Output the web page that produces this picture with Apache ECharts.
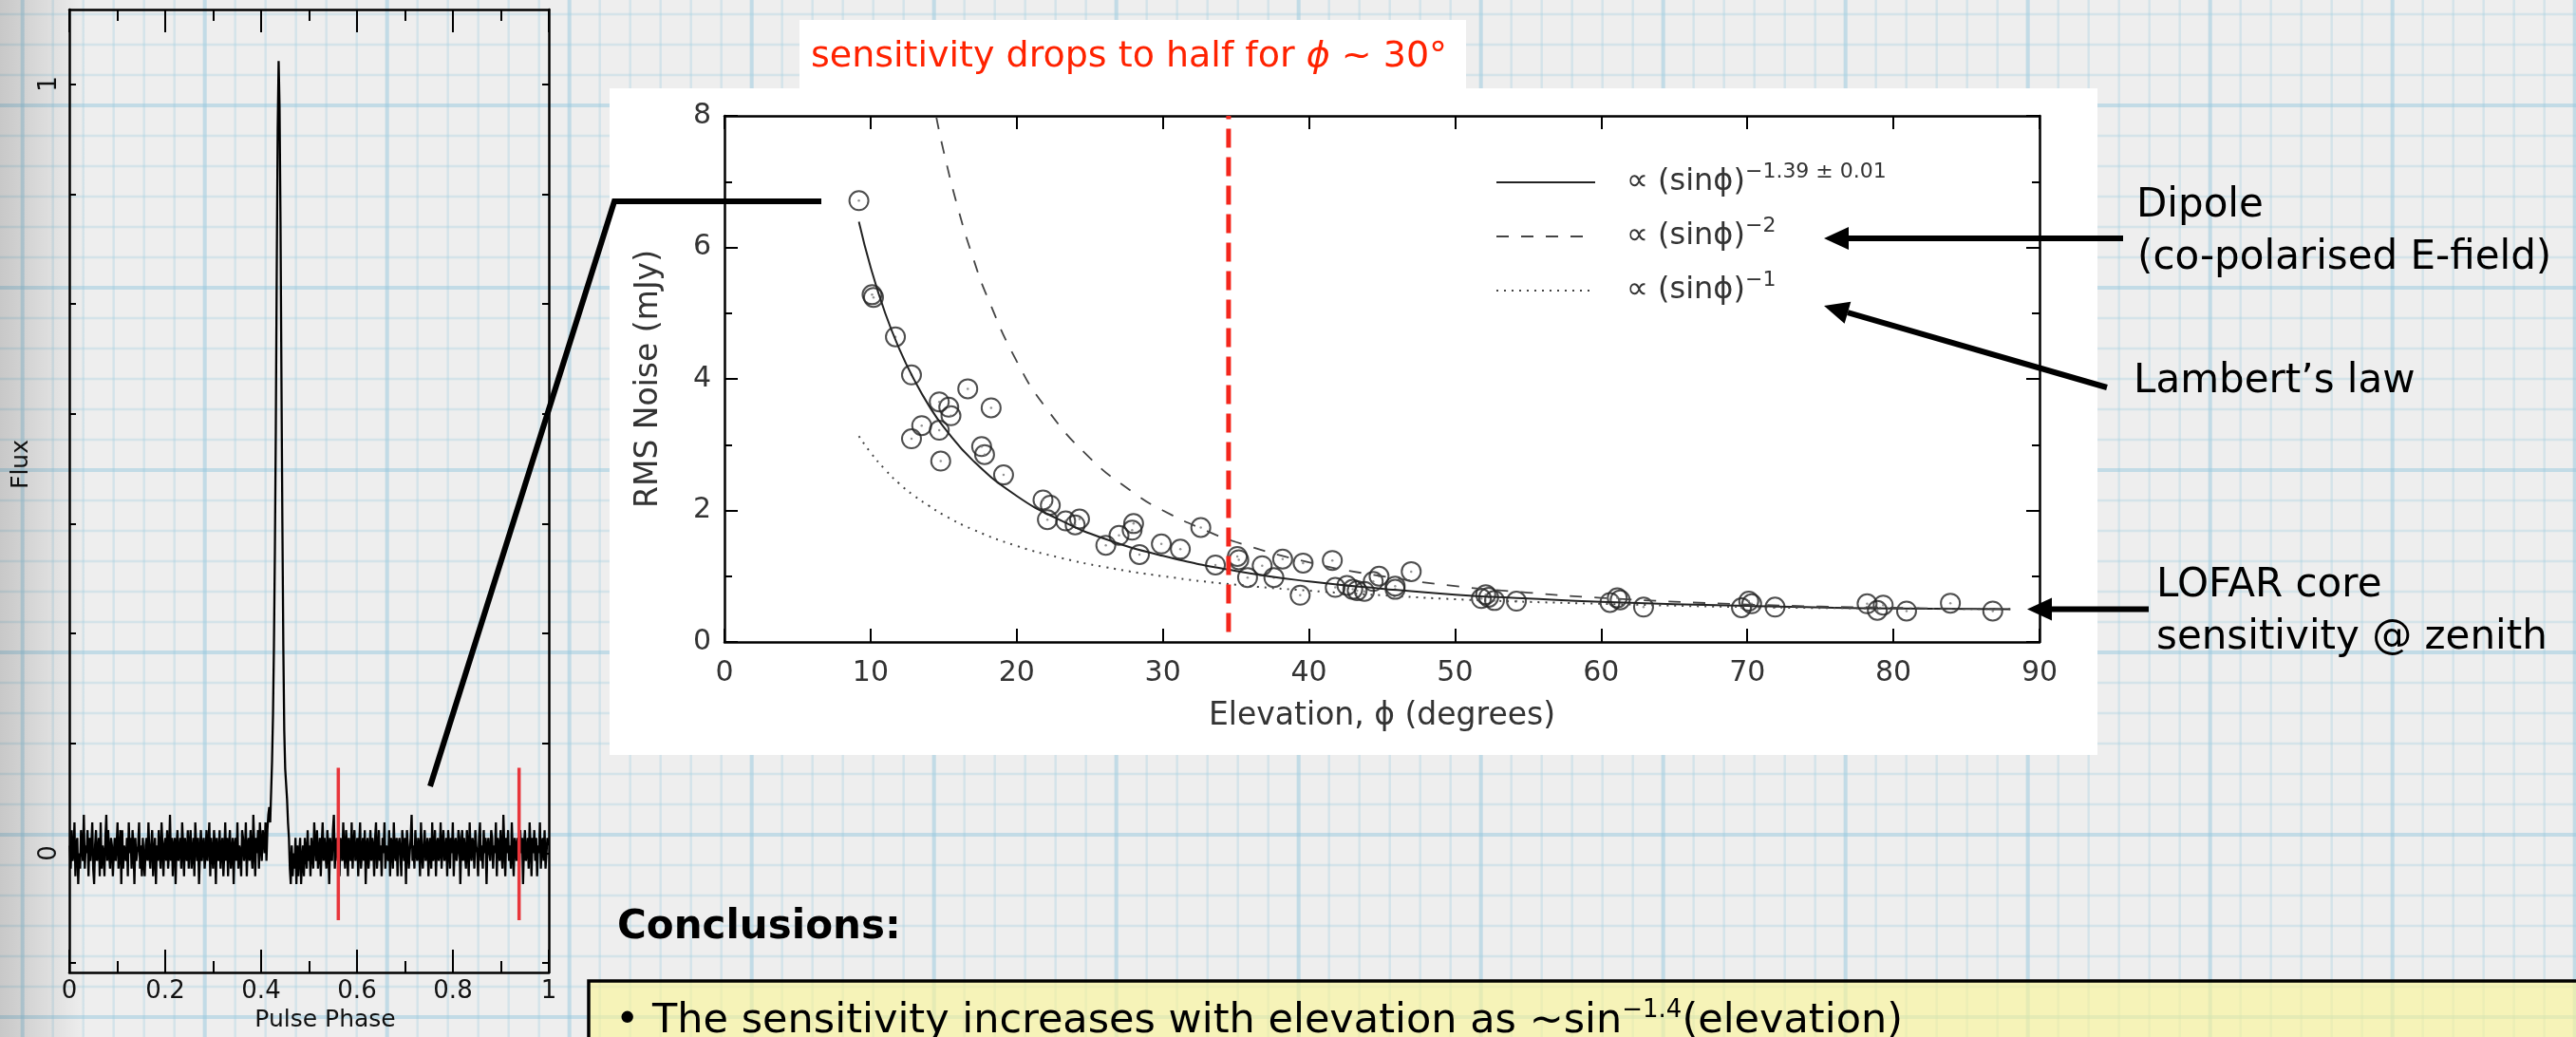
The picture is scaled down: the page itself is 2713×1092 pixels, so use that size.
<!DOCTYPE html>
<html>
<head>
<meta charset="utf-8">
<script src="https://cdn.jsdelivr.net/npm/echarts@6/dist/echarts.min.js"></script>
<style>
  html, body { margin: 0; padding: 0; background: #eeeeee; }
  #chart { width: 2713px; height: 1092px; }
</style>
</head>
<body>
<div id="chart"></div>
<script>
// ---------- Pulse profile (left panel) ----------
// Flux per phase bin, 512 bins across one rotation.
const profileFlux = [
  .01,-.02,.03,-.01,.00,.04,-.03,.01,.02,-.04,.00,-.02,.03,.01,-.01,.05,
  -.02,.01,.00,.03,-.03,.02,-.01,.01,.04,-.02,-.04,.01,.03,-.01,.00,.02,
  -.03,.04,-.02,.01,.00,-.03,.02,.05,-.01,.03,.00,-.02,.02,.01,-.03,.00,
  .02,-.01,.01,.04,-.02,.00,.03,-.04,.03,-.02,.01,.00,-.01,.02,-.03,.04,
  .00,.02,-.02,.03,.01,-.04,.02,-.01,.00,.01,.04,-.02,.01,-.03,.02,-.01,
  -.03,.01,.02,-.01,.04,.00,-.02,.01,.03,-.03,.00,.02,-.04,.01,-.01,.03,
  .00,-.02,.04,.01,-.03,.01,.02,-.01,.03,-.02,.00,.05,-.01,.02,-.03,.01,
  .02,-.04,.01,.03,-.01,.00,.02,-.02,.04,.01,-.03,.02,.00,-.01,.03,-.02,
  .01,.03,-.02,.00,.02,-.03,.04,.01,-.01,.02,-.04,.00,.03,-.01,.01,.02,
  -.02,.00,.03,-.01,.01,.04,-.03,.02,.00,-.02,.03,.01,-.04,.02,.00,-.01,
  .03,-.02,.01,.02,-.03,.00,.04,-.01,.02,-.03,.01,.03,-.02,.00,.02,-.04,
  .01,.02,-.01,.04,-.02,.01,.00,-.03,.03,.02,-.01,.00,.04,-.03,.01,.02,
  -.01,.03,.00,-.02,.05,.01,-.03,.02,.00,.03,-.02,.04,.01,-.01,.03,.02,
  .00,.04,-.01,.03,.05,.06,.04,.08,.12,.18,.27,.39,.55,.76,.94,1.03,
  .97,.82,.62,.43,.27,.16,.11,.09,.07,.04,.02,-.02,-.04,.01,-.03,.00,
  -.02,.02,-.04,.01,-.03,.00,.02,-.04,-.01,.01,-.03,.02,.00,-.02,.03,-.01,
  .01,-.03,.02,.00,-.02,.04,.01,-.01,.03,-.02,.00,.02,-.03,.01,.04,-.01,
  .02,.00,-.02,.03,.01,-.04,.02,.00,-.01,.03,.05,-.02,.01,.02,-.01,.00,
  -.03,.02,.01,-.01,.04,.00,-.02,.03,.01,-.03,.02,.00,-.01,.04,-.02,.01,
  .03,-.01,.00,.02,-.03,.01,.04,-.02,.00,.02,-.01,.03,-.04,.01,.02,-.02,
  .00,.03,-.01,.02,.01,-.03,.02,.04,-.02,.00,.03,-.01,.01,-.03,.02,.00,
  .04,-.02,.01,.00,-.01,.03,-.03,.02,.01,-.02,.04,.00,-.01,.02,-.03,.01,
  .02,.00,-.03,.03,.01,-.01,.02,-.04,.03,.01,-.02,.00,.02,.05,-.01,.01,
  -.02,.03,.00,-.01,.02,.01,-.03,.04,.00,-.02,.01,.03,-.01,.00,.02,-.03,
  .01,.02,-.02,.04,-.01,.00,.03,-.03,.01,.02,-.01,.00,.04,-.02,.01,.03,
  -.01,.00,.02,-.03,.03,.01,-.02,.02,.00,.04,-.03,.01,.02,-.01,.00,.03,
  .02,-.04,.01,.03,-.01,.02,.00,-.02,.03,.01,-.03,.04,.00,-.01,.02,.01,
  -.02,.03,.01,.00,-.03,.02,.04,-.01,.01,-.02,.03,.00,.02,-.04,.01,.02,
  .00,-.01,.03,.02,-.02,.01,.00,.04,-.03,.02,.01,-.01,.03,.00,-.02,.05,
  .01,-.03,.02,.00,.03,-.01,.01,-.02,.04,.00,-.03,.02,.01,-.01,.02,.00,
  -.02,.03,.00,.02,-.04,.01,.03,-.01,.00,.02,-.02,.04,.01,-.03,.02,.00,
  .03,-.01,.02,-.03,.01,.00,.04,-.02,.01,.02,-.01,.03,-.02,.00,.02,.01
];
// Off-pulse window edges (red markers)
const cutPhases = [0.561, 0.938];
const cutFlux = [-0.087, 0.111];
// Flux axis ticks and labels
const fluxTicks = [-0.1429, 0, 0.1429, 0.2857, 0.4286, 0.5714, 0.7143, 0.8571, 1];
const fluxLabels = [0, 1];

// ---------- RMS noise versus elevation (main panel) ----------
const elevation = [
  9.2, 10.1, 10.2, 11.7, 12.8, 13.5, 12.8, 14.7, 15.35, 15.5, 14.7, 14.8, 16.65, 18.25, 17.6, 17.8,
  19.1, 21.8, 22.3, 22.1, 23.35, 24.0, 24.3, 26.1, 27.0, 28.0, 27.9, 28.4, 29.9, 31.2, 32.6, 33.6,
  35.1, 35.2, 35.8, 36.8, 37.6, 38.2, 39.6, 39.4, 41.6, 41.8, 42.6, 43.0, 43.3, 43.8, 44.4, 44.8,
  45.9, 45.9, 47.0, 51.8, 52.1, 52.3, 52.7, 54.2, 60.6, 61.1, 61.3, 62.9, 69.6, 70.1, 70.3, 71.9,
  78.2, 78.9, 79.3, 80.9, 83.9, 86.8
];
const rmsNoise = [
  6.71, 5.28, 5.24, 4.64, 4.06, 3.29, 3.09, 3.65, 3.57, 3.44, 3.22, 2.75, 3.85, 3.56, 2.97, 2.85,
  2.54, 2.16, 2.08, 1.86, 1.84, 1.78, 1.87, 1.47, 1.62, 1.80, 1.70, 1.33, 1.49, 1.41, 1.74, 1.17,
  1.30, 1.25, 0.98, 1.16, 0.98, 1.26, 1.20, 0.71, 1.24, 0.83, 0.86, 0.80, 0.78, 0.77, 0.92, 1.00,
  0.85, 0.80, 1.07, 0.66, 0.72, 0.68, 0.63, 0.62, 0.60, 0.67, 0.64, 0.53, 0.52, 0.62, 0.58, 0.53,
  0.58, 0.48, 0.56, 0.47, 0.59, 0.47
];
// Model curves
const fitElev = [9.2, 10, 11, 12, 13, 14, 15, 17, 20, 23, 26, 30, 35, 40, 45, 50, 55, 60, 70, 80, 88];
const fitFree = [6.39, 5.70, 5.00, 4.44, 3.98, 3.59, 3.27, 2.76, 2.22, 1.85, 1.57, 1.31, 1.08, 0.92, 0.81, 0.72, 0.66, 0.61, 0.55, 0.51, 0.50];
const fitLambert = [3.13, 2.88, 2.62, 2.40, 2.22, 2.07, 1.93, 1.71, 1.46, 1.28, 1.14, 1.00, 0.87, 0.78, 0.71, 0.65, 0.61, 0.58, 0.53, 0.51, 0.50];
const dipoleElev = [14.5, 15, 16, 17, 18, 20, 22, 25, 28, 30, 33, 35, 40, 45, 50, 55, 60, 70, 80, 88];
const fitDipole = [7.98, 7.46, 6.58, 5.85, 5.24, 4.27, 3.56, 2.80, 2.27, 2.00, 1.69, 1.52, 1.21, 1.00, 0.85, 0.75, 0.67, 0.57, 0.52, 0.50];
// Half-sensitivity elevation marker
const halfSensElev = 34.5;
const halfSensRange = [0.15, 8];

// ---------- styling ----------
const FONT = '"DejaVu Sans", sans-serif';
const AXIS_LINE = { color: '#000', width: 2.5 };
const TICK = { color: '#000', width: 2 };
const PLOT_TEXT = '#333';

const chart = echarts.init(document.getElementById('chart'), null, { width: 2713, height: 1092 });

// graph-paper background
const paper = [];
for (let x = 23.7, k = 0; x < 2713; x += 32, k++) {
  const major = k % 6 === 0;
  paper.push({ type: 'line', z: -20, silent: true,
    shape: { x1: x, y1: 0, x2: x, y2: 1092 },
    style: { stroke: major ? 'rgba(150,200,222,0.5)' : 'rgba(160,205,225,0.33)', lineWidth: major ? 4 : 2.5 } });
}
for (let y = 15, k = 0; y < 1092; y += 32, k++) {
  const major = k % 6 === 3;
  paper.push({ type: 'line', z: -20, silent: true,
    shape: { x1: 0, y1: y, x2: 2713, y2: y },
    style: { stroke: major ? 'rgba(150,200,222,0.5)' : 'rgba(160,205,225,0.33)', lineWidth: major ? 4 : 2.5 } });
}
paper.push({ type: 'rect', z: -19, silent: true, shape: { x: 0, y: 0, width: 90, height: 1092 },
  style: { fill: new echarts.graphic.LinearGradient(0, 0, 1, 0, [
    { offset: 0, color: 'rgba(0,0,0,0.16)' }, { offset: 1, color: 'rgba(0,0,0,0)' }]) } });

// arrow helper: tail (x1,y1) -> tip (x2,y2)
function arrow(x1, y1, x2, y2) {
  const a = Math.atan2(y2 - y1, x2 - x1), L = 26, W = 12;
  const bx = x2 - L * Math.cos(a), by = y2 - L * Math.sin(a);
  const px = -Math.sin(a) * W, py = Math.cos(a) * W;
  return [
    { type: 'line', z: 10, shape: { x1, y1, x2: bx, y2: by }, style: { stroke: '#000', lineWidth: 6 } },
    { type: 'polygon', z: 10, shape: { points: [[x2, y2], [bx + px, by + py], [bx - px, by - py]] }, style: { fill: '#000' } }
  ];
}
function label(text, x, y, size, extra) {
  return Object.assign({ type: 'text', z: 10, x, y,
    style: Object.assign({ text, fontFamily: FONT, fontSize: size, fill: '#000', align: 'left', verticalAlign: 'middle' }, extra || {}) });
}

const decorations = [
  // panels
  { type: 'rect', z: -10, shape: { x: 642, y: 93, width: 1567, height: 702 }, style: { fill: '#ffffff' } },
  { type: 'rect', z: -10, shape: { x: 842, y: 21, width: 702, height: 73 }, style: { fill: '#ffffff' } },
  { type: 'rect', z: -10, shape: { x: 620, y: 1033, width: 2200, height: 120 },
    style: { fill: 'rgba(250,245,150,0.62)', stroke: '#000', lineWidth: 3.5 } },
  // connector from the off-pulse window to the lowest-elevation point
  { type: 'polyline', z: 10, shape: { points: [[453, 828], [647, 212], [865, 212]] },
    style: { stroke: '#000', lineWidth: 6, fill: null, lineJoin: 'miter' } },
  ...arrow(2236, 251, 1921, 251),
  ...arrow(2219, 408, 1921, 322),
  ...arrow(2263, 641.5, 2135, 641.5),
  label('Dipole', 2250, 217, 42),
  label('(co-polarised E-field)', 2251, 272, 42),
  label('Lambert\u2019s law', 2247, 402, 42),
  label('LOFAR core', 2271, 617, 42),
  label('sensitivity @ zenith', 2271, 672, 42),
  label('sensitivity drops to half for {i|\u03d5} ~ 30\u00b0', 854, 60, 38, {
    fill: '#ff2200', rich: { i: { fontStyle: 'italic', fontFamily: FONT, fontSize: 38, fill: '#ff2200' } } }),
  label('Conclusions:', 650, 977, 42, { fontWeight: 'bold' }),
  label('{t|\u2022 The sensitivity increases with elevation as ~sin}{s|\u22121.4}{t|(elevation)}', 648, 1076, 43, {
    rich: {
      t: { fontFamily: FONT, fontSize: 43, lineHeight: 50, fill: '#000' },
      s: { fontFamily: FONT, fontSize: 26, lineHeight: 36, verticalAlign: 'top', fill: '#000' }
    } })
];

const legendText = {
  fitFree: '{g| }{m|\u221d (sin\u03d5)}{s|\u22121.39 \u00b1 0.01}',
  fitDipole: '{g| }{m|\u221d (sin\u03d5)}{s|\u22122}',
  fitLambert: '{g| }{m|\u221d (sin\u03d5)}{s|\u22121}'
};

const mainTickLabel = { fontFamily: FONT, fontSize: 30, color: PLOT_TEXT };

const option = {
  backgroundColor: '#eeeeee',
  animation: false,
  grid: [
    { left: 73, top: 10, width: 505, height: 1018 },
    { left: 763, top: 122, width: 1385, height: 554 }
  ],
  xAxis: [
    { gridIndex: 0, type: 'value', min: 0, max: 1, interval: 0.2, position: 'bottom',
      axisLine: { onZero: false, lineStyle: AXIS_LINE },
      axisTick: { inside: true, length: 24, lineStyle: TICK },
      minorTick: { show: true, splitNumber: 2, length: 12, lineStyle: TICK },
      axisLabel: { margin: 7, fontFamily: FONT, fontSize: 26, color: '#111' },
      splitLine: { show: false },
      name: 'Pulse Phase', nameLocation: 'middle', nameGap: 38,
      nameTextStyle: { fontFamily: FONT, fontSize: 25, color: '#111', padding: [0, 0, 0, 34] } },
    { gridIndex: 0, type: 'value', min: 0, max: 1, interval: 0.2, position: 'top',
      axisLine: { onZero: false, lineStyle: AXIS_LINE },
      axisTick: { inside: true, length: 24, lineStyle: TICK },
      minorTick: { show: true, splitNumber: 2, length: 12, lineStyle: TICK },
      axisLabel: { show: false }, splitLine: { show: false } },
    { gridIndex: 1, type: 'value', min: 0, max: 90, interval: 10, position: 'bottom',
      axisLine: { onZero: false, lineStyle: AXIS_LINE },
      axisTick: { inside: true, length: 14, lineStyle: TICK },
      axisLabel: Object.assign({ margin: 18 }, mainTickLabel),
      splitLine: { show: false },
      name: 'Elevation, \u03d5 (degrees)', nameLocation: 'middle', nameGap: 62,
      nameTextStyle: { fontFamily: FONT, fontSize: 33, color: PLOT_TEXT } },
    { gridIndex: 1, type: 'value', min: 0, max: 90, interval: 10, position: 'top',
      axisLine: { onZero: false, lineStyle: AXIS_LINE },
      axisTick: { inside: true, length: 14, lineStyle: TICK },
      axisLabel: { show: false }, splitLine: { show: false } }
  ],
  yAxis: [
    { gridIndex: 0, type: 'value', min: -0.155, max: 1.097, position: 'left',
      axisLine: { onZero: false, lineStyle: AXIS_LINE },
      axisTick: { inside: true, length: 7, lineStyle: TICK, customValues: fluxTicks },
      axisLabel: { customValues: fluxLabels, rotate: 90, margin: 8, fontFamily: FONT, fontSize: 26, color: '#111' },
      splitLine: { show: false },
      name: 'Flux', nameLocation: 'middle', nameGap: 38,
      nameTextStyle: { fontFamily: FONT, fontSize: 25, color: '#111', padding: [0, 0, 0, 56] } },
    { gridIndex: 0, type: 'value', min: -0.155, max: 1.097, position: 'right',
      axisLine: { onZero: false, lineStyle: AXIS_LINE },
      axisTick: { inside: true, length: 7, lineStyle: TICK, customValues: fluxTicks },
      axisLabel: { show: false }, splitLine: { show: false } },
    { gridIndex: 1, type: 'value', min: 0, max: 8, interval: 2, position: 'left',
      axisLine: { onZero: false, lineStyle: AXIS_LINE },
      axisTick: { inside: true, length: 14, lineStyle: TICK },
      minorTick: { show: true, splitNumber: 2, length: 8, lineStyle: TICK },
      axisLabel: Object.assign({ margin: 14 }, mainTickLabel),
      splitLine: { show: false },
      name: 'RMS Noise (mJy)', nameLocation: 'middle', nameGap: 63,
      nameTextStyle: { fontFamily: FONT, fontSize: 33, color: PLOT_TEXT } },
    { gridIndex: 1, type: 'value', min: 0, max: 8, interval: 2, position: 'right',
      axisLine: { onZero: false, lineStyle: AXIS_LINE },
      axisTick: { inside: true, length: 14, lineStyle: TICK },
      minorTick: { show: true, splitNumber: 2, length: 8, lineStyle: TICK },
      axisLabel: { show: false }, splitLine: { show: false } }
  ],
  legend: {
    data: ['fitFree', 'fitDipole', 'fitLambert'],
    orient: 'vertical', left: 1570, top: 165,
    itemWidth: 104, itemHeight: 14, itemGap: 19,
    selectedMode: false,
    itemStyle: { opacity: 0 },
    formatter: name => legendText[name],
    textStyle: {
      fontFamily: FONT, fontSize: 32, color: PLOT_TEXT,
      rich: {
        g: { width: 28 },
        m: { fontFamily: FONT, fontSize: 32, lineHeight: 44, color: PLOT_TEXT },
        s: { fontFamily: FONT, fontSize: 22, lineHeight: 16, verticalAlign: 'top', color: PLOT_TEXT }
      }
    }
  },
  graphic: { elements: paper.concat(decorations) },
  series: [
    { type: 'line', xAxisIndex: 0, yAxisIndex: 0, symbol: 'none', silent: true,
      lineStyle: { color: '#000', width: 2.3 },
      data: profileFlux.map((f, i) => [(i + 0.5) / profileFlux.length, f]) },
    ...cutPhases.map(p => ({ type: 'line', xAxisIndex: 0, yAxisIndex: 0, symbol: 'none', silent: true, z: 4,
      lineStyle: { color: '#e8353b', width: 3.5 },
      data: [[p, cutFlux[0]], [p, cutFlux[1]]] })),
    { name: 'fitFree', type: 'line', xAxisIndex: 2, yAxisIndex: 2, symbol: 'none', smooth: true, silent: true,
      itemStyle: { color: '#222' },
      lineStyle: { color: '#222', width: 2 },
      data: fitElev.map((e, i) => [e, fitFree[i]]) },
    { name: 'fitDipole', type: 'line', xAxisIndex: 2, yAxisIndex: 2, symbol: 'none', smooth: true, silent: true,
      itemStyle: { color: '#444' },
      lineStyle: { color: '#444', width: 1.8, type: [13, 13] },
      data: dipoleElev.map((e, i) => [e, fitDipole[i]]) },
    { name: 'fitLambert', type: 'line', xAxisIndex: 2, yAxisIndex: 2, symbol: 'none', smooth: true, silent: true,
      itemStyle: { color: '#444' },
      lineStyle: { color: '#444', width: 2, type: [2, 6] },
      data: fitElev.map((e, i) => [e, fitLambert[i]]) },
    { type: 'scatter', xAxisIndex: 2, yAxisIndex: 2, symbol: 'circle', symbolSize: 20, silent: true,
      itemStyle: { color: 'rgba(0,0,0,0)', borderColor: '#222', borderWidth: 2 },
      data: elevation.map((e, i) => [e, rmsNoise[i]]) },
    { type: 'scatter', xAxisIndex: 2, yAxisIndex: 2, symbol: 'circle', symbolSize: 2.5, silent: true,
      itemStyle: { color: '#777' },
      data: elevation.map((e, i) => [e, rmsNoise[i]]) },
    { type: 'line', xAxisIndex: 2, yAxisIndex: 2, symbol: 'none', silent: true, z: 5,
      lineStyle: { color: '#f4261c', width: 5, type: [20, 10] },
      data: halfSensRange.map(v => [halfSensElev, v]) }
  ]
};
chart.setOption(option);
</script>
</body>
</html>
